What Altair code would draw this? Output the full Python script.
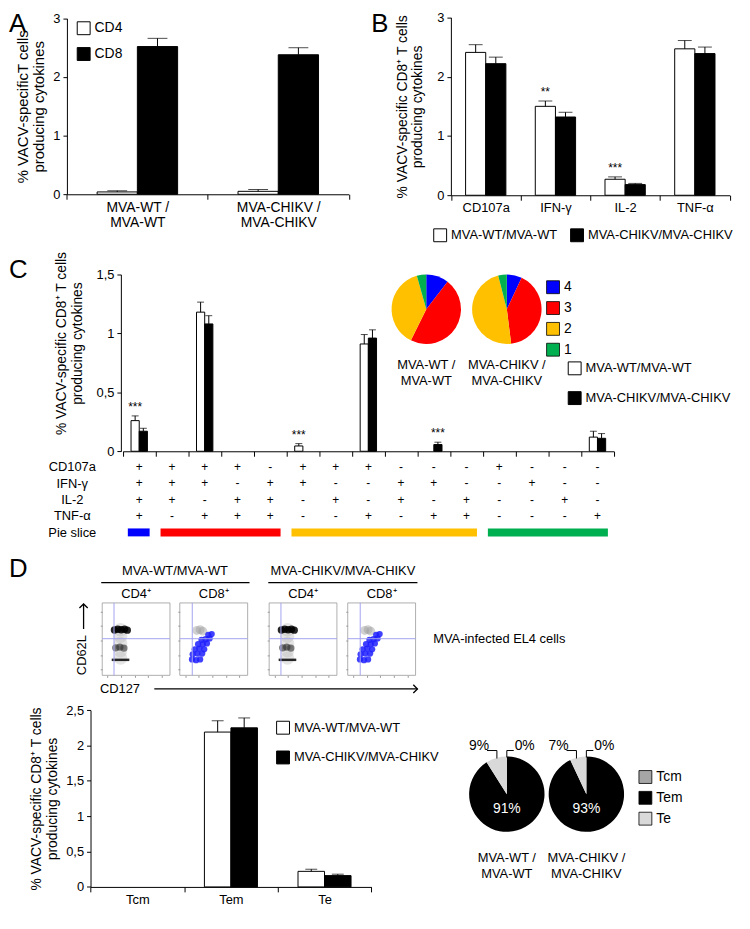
import math
import altair as alt
import pandas as pd

W, H = 740, 904
FONT = "Liberation Sans"


def X(r):
    return round((r - 3) * 0.99, 1)


def Y(r):
    return round((r - 2) * 0.974, 1)


# ---------------------------------------------------------------- data
A_GROUPS = ["MVA-WT /|MVA-WT", "MVA-CHIKV /|MVA-CHIKV"]
A_SERIES = ["CD4", "CD8"]
A_CD4 = [0.04, 0.05]
A_CD4_ERR = [0.02, 0.03]
A_CD8 = [2.52, 2.38]
A_CD8_ERR = [0.14, 0.12]
A_STARS = ["", ""]

SERIES = ["MVA-WT/MVA-WT", "MVA-CHIKV/MVA-CHIKV"]

B_CATS = ["CD107a", "IFN-γ", "IL-2", "TNF-α"]
B_WT = [2.41, 1.50, 0.27, 2.47]
B_WT_ERR = [0.13, 0.09, 0.04, 0.14]
B_CH = [2.22, 1.32, 0.18, 2.39]
B_CH_ERR = [0.11, 0.08, 0.02, 0.11]
B_STARS_WT = ["", "**", "***", ""]
B_STARS_CH = ["", "", "", ""]

C_COLS = ["c%d" % i for i in range(1, 16)]
C_WT = [0.26, 0, 1.18, 0, 0, 0.045, 0, 0.91, 0, 0, 0, 0, 0, 0, 0.12]
C_WT_ERR = [0.04, 0, 0.085, 0, 0, 0.02, 0, 0.08, 0, 0, 0, 0, 0, 0, 0.05]
C_CH = [0.17, 0, 1.08, 0, 0, 0, 0, 0.96, 0, 0.057, 0, 0, 0, 0, 0.11]
C_CH_ERR = [0.025, 0, 0.07, 0, 0, 0, 0, 0.07, 0, 0.02, 0, 0, 0, 0, 0.04]
C_STARS_WT = ["***", "", "", "", "", "***", "", "", "", "", "", "", "", "", ""]
C_STARS_CH = ["", "", "", "", "", "", "", "", "", "***", "", "", "", "", ""]

T_ROWS = ["CD107a", "IFN-γ", "IL-2", "TNF-α", "Pie slice"]
T_CD107A = list("++++-+++---+---")
T_IFNG = list("+++-++--++--+--")
T_IL2 = list("++-++-+-+-+--+-")
T_TNFA = list("+-+++--+-++---+")

SLICE_KEYS = ["4", "3", "2", "1"]
SLICE_COLORS = ["#0000ff", "#ff0000", "#ffc000", "#00b050"]
SLICE_FIRST_COL = [0, 1, 5, 11]
SLICE_LAST_COL = [1, 5, 11, 15]

PIE_GROUPS = ["MVA-WT /|MVA-WT", "MVA-CHIKV /|MVA-CHIKV"]
C_PIE_WT = [10.5, 46.8, 38.3, 4.4]
C_PIE_CH = [7.0, 41.0, 48.0, 4.0]

D_CATS = ["Tcm", "Tem", "Te"]
D_WT = [0, 2.19, 0.22]
D_WT_ERR = [0, 0.16, 0.03]
D_CH = [0, 2.25, 0.16]
D_CH_ERR = [0, 0.14, 0.02]
D_STARS = ["", "", ""]

D_PIE_KEYS = ["Tcm", "Tem", "Te"]
D_PIE_COLORS = ["#a6a6a6", "#000000", "#d9d9d9"]
D_PIE_WT = [0, 91, 9]
D_PIE_CH = [0, 93, 7]

# flow cytometry dot plots: cluster centres in decades (0-5 on both axes)
CD4_GATE = [0.87, 2.53]
CD8_GATE = [0.92, 2.53]
CD4_HALO_X = [1.35, 1.35, 1.35, 1.35, 1.35]
CD4_HALO_Y = [1.2, 1.7, 2.2, 2.7, 3.15]
CD4_DENSE_X = [0.9, 1.15, 1.4, 1.65, 1.85]
CD4_DENSE_Y = [3.13, 3.18, 3.15, 3.18, 3.12]
CD4_MID_X = [1.0, 1.3, 1.6]
CD4_MID_Y = [1.9, 1.95, 1.88]
CD4_STREAK = [0.7, 2.0, 1.07]
CD8_GRAY_X = [1.25, 1.5, 1.7]
CD8_GRAY_Y = [3.1, 3.15, 3.05]
CD8_BLUE_X = [0.9, 1.2, 1.5, 0.95, 1.3, 1.65, 1.1, 1.45, 1.8, 1.35, 1.7, 2.0, 1.6, 1.9, 2.2, 2.1, 2.35]
CD8_BLUE_Y = [1.1, 1.05, 1.1, 1.45, 1.5, 1.5, 1.8, 1.85, 1.8, 2.15, 2.15, 2.2, 2.45, 2.5, 2.55, 2.8, 2.85]

DUMMY = pd.DataFrame({"d": [0]})


# ---------------------------------------------------------------- helpers
def y_axis(axis_x, values, title, tpad, tsize=14, title_y=None):
    kw = dict(orient="left", offset=-axis_x, values=values, format="~g",
              labelExpr="replace(datum.label, '.', ',')",
              title=title, titlePadding=tpad, tickSize=4, grid=False,
              domainColor="black", tickColor="black", labelColor="black",
              labelFontSize=13, titleFontSize=tsize, titleFontWeight="normal",
              titleColor="black", labelPadding=3, titleLineHeight=tsize + 2,
              titleLimit=400)
    if title_y is not None:
        kw["titleY"] = title_y
    return alt.Axis(**kw)


def x_axis(axis_y, labels=True, multiline=False, size=13, pad=4):
    kw = dict(orient="bottom", offset=axis_y - H, tickBand="extent", tickSize=5,
              domainColor="black", tickColor="black", labelColor="black",
              labelFontSize=size, labelPadding=pad, title=None, grid=False,
              labelAngle=0)
    if not labels:
        kw["labels"] = False
    if multiline:
        kw["labelExpr"] = "split(datum.label, '|')"
        kw["labelLineHeight"] = 16
    return alt.Axis(**kw)


def bar_legend(lx, ly, horizontal=False, row_pad=10, size=13):
    kw = dict(orient="none", legendX=lx, legendY=ly, title=None,
              symbolType="square", symbolSize=169, symbolStrokeColor="black",
              symbolStrokeWidth=1, labelFontSize=size, labelColor="black",
              rowPadding=row_pad, padding=0, labelOffset=4, symbolOpacity=1,
              labelLimit=300)
    if horizontal:
        kw["direction"] = "horizontal"
        kw["columnPadding"] = 10
    return alt.Legend(**kw)


def bar_panel(cats, series, v1, e1, v2, e2, s1, s2, xr, yr, ydom, pad_outer,
              cap, xaxis, yaxis, legend):
    rows = []
    for i, c in enumerate(cats):
        rows.append(dict(cat=c, ser=series[0], val=v1[i], err=e1[i], star=s1[i]))
        rows.append(dict(cat=c, ser=series[1], val=v2[i], err=e2[i], star=s2[i]))
    df = pd.DataFrame(rows)
    x = alt.X("cat:N", sort=cats, title=None, axis=xaxis,
              scale=alt.Scale(domain=cats, range=xr, paddingInner=0, paddingOuter=0))
    xo = alt.XOffset("ser:N", sort=series,
                     scale=alt.Scale(domain=series, paddingInner=0, paddingOuter=pad_outer))
    ysc = alt.Scale(domain=ydom, range=yr, nice=False, zero=False)
    y = alt.Y("val:Q", scale=ysc, axis=yaxis)
    yh = alt.Y("hi:Q", scale=ysc, axis=yaxis)
    base = alt.Chart(df).transform_calculate(hi="datum.val + datum.err")
    bars = base.transform_filter("datum.val > 0").mark_bar(stroke="black", strokeWidth=1).encode(
        x=x, xOffset=xo, y=y,
        color=alt.Color("ser:N", sort=series, legend=legend,
                        scale=alt.Scale(domain=series, range=["#ffffff", "#000000"])))
    eb = base.transform_filter("datum.err > 0")
    rules = eb.mark_rule(color="black", strokeWidth=1).encode(x=x, xOffset=xo, y=y, y2="hi:Q")
    caps = eb.mark_tick(color="black", thickness=1, size=cap).encode(x=x, xOffset=xo, y=yh)
    stars = base.transform_filter("datum.star != ''").mark_text(
        fontSize=12, baseline="bottom", dy=-2, color="black").encode(
        x=x, xOffset=xo, y=yh, text="star:N")
    return alt.layer(bars, rules, caps, stars)


def pie_parts(keys, colors, vals_a, vals_b, xr, yr, radius, legend):
    rows = []
    for g, vals in zip(PIE_GROUPS, [vals_a, vals_b]):
        for i, k in enumerate(keys):
            rows.append(dict(group=g, key=k, ord=i, pct=vals[i], row="pie"))
    df = pd.DataFrame(rows)
    x = alt.X("group:N", axis=None,
              scale=alt.Scale(type="point", domain=PIE_GROUPS, range=xr, padding=0))
    y = alt.Y("row:N", axis=None,
              scale=alt.Scale(type="point", domain=["pie", "label"], range=yr, padding=0))
    arcs = alt.Chart(df).transform_window(
        cum="sum(pct)", groupby=["group"], sort=[alt.SortField("ord")], frame=[None, 0]
    ).transform_calculate(start="datum.cum - datum.pct").mark_arc(outerRadius=radius).encode(
        x=x, y=y,
        theta=alt.Theta("start:Q", scale=alt.Scale(domain=[0, 100], range=[0, 2 * math.pi])),
        theta2="cum:Q",
        color=alt.Color("key:N", sort=keys, legend=legend,
                        scale=alt.Scale(domain=keys, range=colors)))
    lab = alt.Chart(pd.DataFrame({"group": PIE_GROUPS, "row": ["label", "label"]})).mark_text(
        lineBreak="|", lineHeight=16, fontSize=13, color="black").encode(x=x, y=y, text="group:N")
    return df, x, y, [arcs, lab]


def pie_legend(lx, ly, size=14):
    return alt.Legend(orient="none", legendX=lx, legendY=ly, title=None, symbolType="square",
                      symbolSize=169, symbolStrokeColor="black", symbolStrokeWidth=0.8,
                      labelFontSize=size, labelColor="black", rowPadding=3, padding=0,
                      labelOffset=4, symbolOpacity=1)


def note(text, x, y, size=13, angle=0, align="center", baseline="middle"):
    return alt.Chart(DUMMY).mark_text(
        text=text, fontSize=size, angle=angle, align=align, baseline=baseline,
        color="black", font=FONT).encode(x=alt.value(x), y=alt.value(y))


def hline(x1, x2, y, w=1.3):
    return alt.Chart(DUMMY).mark_rule(color="black", strokeWidth=w).encode(
        x=alt.value(x1), x2=alt.value(x2), y=alt.value(y))


def vline(x, y1, y2, w=1.3):
    return alt.Chart(DUMMY).mark_rule(color="black", strokeWidth=w).encode(
        x=alt.value(x), y=alt.value(y1), y2=alt.value(y2))


def head(x, y, path):
    return alt.Chart(DUMMY).mark_point(shape=path, filled=False, size=70, color="black",
                                       strokeWidth=1.3, opacity=1).encode(
        x=alt.value(x), y=alt.value(y))


def flow_box(bx0, bx1, label, kind, gate):
    xs = alt.Scale(domain=[0, 5], range=[X(bx0), X(bx1)], nice=False, zero=False)
    ys = alt.Scale(domain=[0, 5], range=[Y(689), Y(614)], nice=False, zero=False)
    ticks = [0.4, 1.4, 2.4, 3.4, 4.4]
    axx = alt.Axis(orient="bottom", offset=Y(689) - H, values=ticks, labels=False, tickSize=2,
                   tickColor="#999999", domain=False, grid=False, title=None)
    axy = alt.Axis(orient="left", offset=-X(bx0), values=ticks, labels=False, tickSize=2,
                   tickColor="#999999", domain=False, grid=False, title=None)
    frame = alt.Chart(pd.DataFrame({"x0": [0], "x1": [5], "y0": [0], "y1": [5]})).mark_rect(
        fillOpacity=0, stroke="#9a9a9a", strokeWidth=0.8).encode(
        x=alt.X("x0:Q", scale=xs, axis=axx), x2="x1:Q",
        y=alt.Y("y0:Q", scale=ys, axis=axy), y2="y1:Q")
    gdf = pd.DataFrame({"gx": [gate[0]], "gy": [gate[1]], "lo": [0], "hi": [5]})
    vg = alt.Chart(gdf).mark_rule(color="#a3a3f0", strokeWidth=1).encode(
        x=alt.X("gx:Q", scale=xs, axis=axx), y=alt.Y("lo:Q", scale=ys, axis=axy), y2="hi:Q")
    hg = alt.Chart(gdf).mark_rule(color="#a3a3f0", strokeWidth=1).encode(
        y=alt.Y("gy:Q", scale=ys, axis=axy), x=alt.X("lo:Q", scale=xs, axis=axx), x2="hi:Q")

    def blobs(xv, yv, size, color, op):
        return alt.Chart(pd.DataFrame({"x": xv, "y": yv})).mark_circle(
            size=size, color=color, opacity=op).encode(
            x=alt.X("x:Q", scale=xs, axis=axx), y=alt.Y("y:Q", scale=ys, axis=axy))

    if kind == "cd4":
        streak = alt.Chart(pd.DataFrame({"a": [CD4_STREAK[0]], "b": [CD4_STREAK[1]],
                                         "y": [CD4_STREAK[2]]})).mark_rule(
            color="#111111", strokeWidth=2.5, opacity=0.9).encode(
            x=alt.X("a:Q", scale=xs, axis=axx), x2="b:Q", y=alt.Y("y:Q", scale=ys, axis=axy))
        cl = [blobs(CD4_HALO_X, CD4_HALO_Y, 190, "#a8a8a8", 0.3),
              blobs(CD4_MID_X, CD4_MID_Y, 55, "#2e2e2e", 0.6),
              streak,
              blobs(CD4_DENSE_X, CD4_DENSE_Y, 55, "#000000", 0.85)]
    else:
        cl = [blobs(CD8_GRAY_X, CD8_GRAY_Y, 80, "#9a9a9a", 0.45),
              blobs(CD8_BLUE_X, CD8_BLUE_Y, 40, "#1f1fff", 0.85)]
    lab = alt.Chart(pd.DataFrame({"x": [2.5], "y": [5], "t": [label]})).mark_text(
        fontSize=13, dy=-9, color="black").encode(
        x=alt.X("x:Q", scale=xs, axis=axx), y=alt.Y("y:Q", scale=ys, axis=axy), text="t:N")
    return alt.layer(frame, *cl, vg, hg, lab)


# ---------------------------------------------------------------- panel A
panelA = bar_panel(
    A_GROUPS, A_SERIES, A_CD4, A_CD4_ERR, A_CD8, A_CD8_ERR, A_STARS, A_STARS,
    [X(63), X(350)], [Y(191), Y(9)], [0, 3], 0.75, 20,
    x_axis(Y(191), multiline=True, size=14, pad=1),
    y_axis(X(63), [0, 1, 2, 3], ["% VACV-specificT cells", "producing cytokines"], 6, tsize=15),
    bar_legend(X(73), Y(12), row_pad=8, size=14))

# ---------------------------------------------------------------- panel B
panelB = bar_panel(
    B_CATS, SERIES, B_WT, B_WT_ERR, B_CH, B_CH_ERR, B_STARS_WT, B_STARS_CH,
    [X(454), X(738)], [Y(192), Y(8)], [0, 3], 0.73, 14,
    x_axis(Y(192), size=13, pad=1),
    y_axis(X(454), [0, 1, 2, 3], ["% VACV-specific CD8⁺ T cells", "producing cytokines"], 12),
    bar_legend(X(436), Y(226), horizontal=True))

# ---------------------------------------------------------------- panel C bars
panelC = bar_panel(
    C_COLS, SERIES, C_WT, C_WT_ERR, C_CH, C_CH_ERR, C_STARS_WT, C_STARS_CH,
    [X(120), X(620)], [Y(457), Y(274)], [0, 1.5], 1.0, 7,
    x_axis(Y(457), labels=False),
    y_axis(X(118), [0, 0.5, 1, 1.5], ["% VACV-specific CD8⁺ T cells", "producing cytokines"], 12,
           title_y=Y(345)),
    bar_legend(X(573), Y(364), row_pad=12))

# ---------------------------------------------------------------- panel C table
t_rows = []
for i, col in enumerate(C_COLS):
    for rname, vals in zip(T_ROWS[:4], [T_CD107A, T_IFNG, T_IL2, T_TNFA]):
        t_rows.append(dict(col=col, row=rname, sign=vals[i]))
t_df = pd.DataFrame(t_rows)
row_scale = alt.Scale(type="point", domain=T_ROWS, range=[Y(473), Y(541)], padding=0)
table = alt.Chart(t_df).mark_text(fontSize=12, color="black").encode(
    x=alt.X("col:N", sort=C_COLS, axis=None,
            scale=alt.Scale(domain=C_COLS, range=[X(120), X(620)], paddingInner=0, paddingOuter=0)),
    y=alt.Y("row:N", sort=T_ROWS, title=None, scale=row_scale,
            axis=alt.Axis(orient="left", offset=-X(100), labelAlign="center",
                          labelPadding=X(100) - X(68), ticks=False, tickSize=0, domain=False,
                          labelFontSize=13, labelColor="black", grid=False, title=None)),
    text="sign:N")

s_df = pd.DataFrame({"key": SLICE_KEYS, "first": SLICE_FIRST_COL, "last": SLICE_LAST_COL,
                     "row": ["Pie slice"] * 4})
slices = alt.Chart(s_df).mark_bar(size=8, xOffset=5, x2Offset=-6).encode(
    x=alt.X("first:Q", axis=None,
            scale=alt.Scale(domain=[0, 15], range=[X(120), X(620)], nice=False, zero=False)),
    x2="last:Q",
    y=alt.Y("row:N", axis=None, scale=row_scale),
    color=alt.Color("key:N", legend=None,
                    scale=alt.Scale(domain=SLICE_KEYS, range=SLICE_COLORS)))

# ---------------------------------------------------------------- panel C pies
_, _, _, c_pie_layers = pie_parts(SLICE_KEYS, SLICE_COLORS, C_PIE_WT, C_PIE_CH,
                                  [X(429), X(511)], [Y(310), Y(368)], 35,
                                  pie_legend(X(551), Y(280)))
pieC = alt.layer(*c_pie_layers)

# ---------------------------------------------------------------- panel D flow
flows = [
    flow_box(99, 168, "CD4⁺", "cd4", CD4_GATE),
    flow_box(178, 247, "CD8⁺", "cd8", CD8_GATE),
    flow_box(269, 338, "CD4⁺", "cd4", CD4_GATE),
    flow_box(349, 418, "CD8⁺", "cd8", CD8_GATE),
]

# ---------------------------------------------------------------- panel D bars
panelD = bar_panel(
    D_CATS, SERIES, D_WT, D_WT_ERR, D_CH, D_CH_ERR, D_STARS, D_STARS,
    [X(87), X(373)], [Y(908), Y(725)], [0, 2.5], 0.765, 12,
    x_axis(Y(908), size=13, pad=2),
    y_axis(X(87), [0, 0.5, 1, 1.5, 2, 2.5], ["% VACV-specific CD8⁺ T cells", "producing cytokines"], 6),
    bar_legend(X(276), Y(736), row_pad=12))

# ---------------------------------------------------------------- panel D pies
d_df, dx_enc, dy_enc, d_pie_layers = pie_parts(D_PIE_KEYS, D_PIE_COLORS, D_PIE_WT, D_PIE_CH,
                                               [X(511), X(592)], [Y(812), Y(878)], 38,
                                               pie_legend(X(645), Y(787)))
pct = alt.Chart(d_df).transform_calculate(txt="datum.pct + '%'")
inner = pct.transform_filter("datum.key == 'Tem'").mark_text(
    color="white", fontSize=14, dy=15).encode(x=dx_enc, y=dy_enc, text="txt:N")
left = pct.transform_filter("datum.key == 'Te'").mark_text(
    color="black", fontSize=14, dx=-28, dy=-49).encode(x=dx_enc, y=dy_enc, text="txt:N")
right = pct.transform_filter("datum.key == 'Tcm'").mark_text(
    color="black", fontSize=14, dx=18, dy=-49).encode(x=dx_enc, y=dy_enc, text="txt:N")
grp = alt.Chart(pd.DataFrame({"group": PIE_GROUPS, "row": ["pie", "pie"]}))


def leader(xo1, xo2, yo1, yo2):
    return grp.mark_rule(color="black", strokeWidth=1, xOffset=xo1, x2Offset=xo2,
                         yOffset=yo1, y2Offset=yo2).encode(
        x=dx_enc, x2=alt.X2("group"), y=dy_enc, y2=alt.Y2("row"))


leaders = [leader(-20, -10, -44, -44), leader(-10, -10, -44, -36),
           leader(0, 7, -44, -44), leader(0, 0, -44, -37)]
pieD = alt.layer(*d_pie_layers, inner, left, right, *leaders)

# ---------------------------------------------------------------- annotations
notes = [
    note("A", 1, 0, size=26, align="left", baseline="top"),
    note("B", X(373), 0, size=26, align="left", baseline="top"),
    note("C", 1, Y(256), size=26, align="left", baseline="top"),
    note("D", 1, Y(566), size=26, align="left", baseline="top"),
    note("MVA-WT/MVA-WT", X(173), Y(581)),
    note("MVA-CHIKV/MVA-CHIKV", X(344), Y(581)),
    hline(X(98), X(249), Y(593)),
    hline(X(268), X(420), Y(593)),
    note("CD62L", X(78), Y(668), angle=270),
    vline(X(80), Y(641), Y(615)),
    head(X(80), Y(615), "M-1,1L0,0L1,1"),
    note("CD127", X(117), Y(703)),
    hline(X(152), X(420), Y(703)),
    head(X(420), Y(703), "M-1,-1L0,0L-1,1"),
    note("MVA-infected EL4 cells", X(436), Y(651), align="left"),
]

layers = [panelA, panelB, panelC, table, slices, pieC, *flows, panelD, pieD, *notes]

chart = alt.layer(*layers).properties(
    width=W, height=H, padding=0, autosize=alt.AutoSizeParams(type="none")
).resolve_scale(
    x="independent", y="independent", xOffset="independent",
    color="independent", theta="independent"
).resolve_axis(
    x="independent", y="independent"
).resolve_legend(
    color="independent"
).configure_view(stroke=None).configure_axis(
    labelFont=FONT, titleFont=FONT
).configure_legend(labelFont=FONT).configure_text(font=FONT)

chart.save("out.html", embed_options={"renderer": "svg", "actions": False})
